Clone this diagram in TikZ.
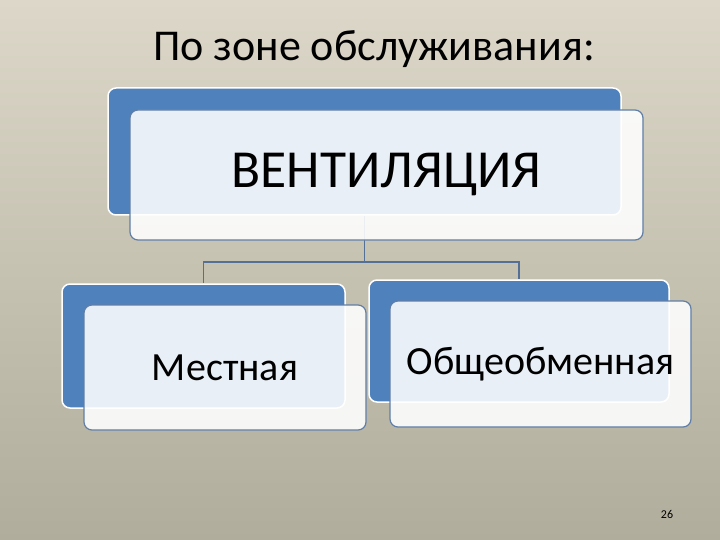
\documentclass[tikz,border=0pt]{standalone}
\usepackage{fontspec}
\setmainfont{Carlito}
\definecolor{bgtop}{RGB}{220,215,200}
\definecolor{bgbot}{RGB}{176,173,156}
\definecolor{boxblue}{RGB}{79,129,189}
\definecolor{edgeblue}{RGB}{96,126,166}
\definecolor{linkcol}{RGB}{84,112,150}
\tikzset{
  backbox/.style={draw=white, line width=1.5pt, fill=boxblue, rounded corners=8pt, inner sep=0pt},
  frontbox/.style={draw=edgeblue, line width=1.2pt, fill=white, fill opacity=0.88, text opacity=1, rounded corners=8pt, inner sep=0pt, text=black},
  link/.style={draw=linkcol, line width=1.2pt}
}
\begin{document}
\begin{tikzpicture}[x=1pt,y=-1pt]
\shade[top color=bgtop, bottom color=bgbot] (0,0) rectangle (720,540);
\useasboundingbox (0,0) rectangle (720,540);
\node (title) at (374,49) {\fontsize{44}{46}\selectfont По зоне обслуживания:};
% back boxes
\node[backbox, minimum width=513pt, minimum height=127pt] (topblue) at (364.5,151.5) {};
\node[backbox, minimum width=283pt, minimum height=124pt] (lblue) at (203.5,346) {};
\node[backbox, minimum width=300pt, minimum height=122pt] (rblue) at (519,341) {};
% connectors
\coordinate (j) at (364.5,262);
\draw[link] (topblue.south) -- (j) -| (lblue.north);
\draw[link] (j) -| (rblue.north);
% front boxes
\node[frontbox, minimum width=513pt, minimum height=130pt] (top) at (386.5,175) {\fontsize{53.5}{56}\selectfont ВЕНТИЛЯЦИЯ};
\node[frontbox, minimum width=282pt, minimum height=125pt] (left) at (225,367.5) {\fontsize{40}{42}\selectfont Местная};
\node[frontbox, minimum width=301pt, minimum height=126pt] (right) at (540.5,364) {\fontsize{40}{42}\selectfont Общеобменная};
\node (num) at (667,514) {\fontsize{12}{13}\selectfont 26};
\end{tikzpicture}
\end{document}
